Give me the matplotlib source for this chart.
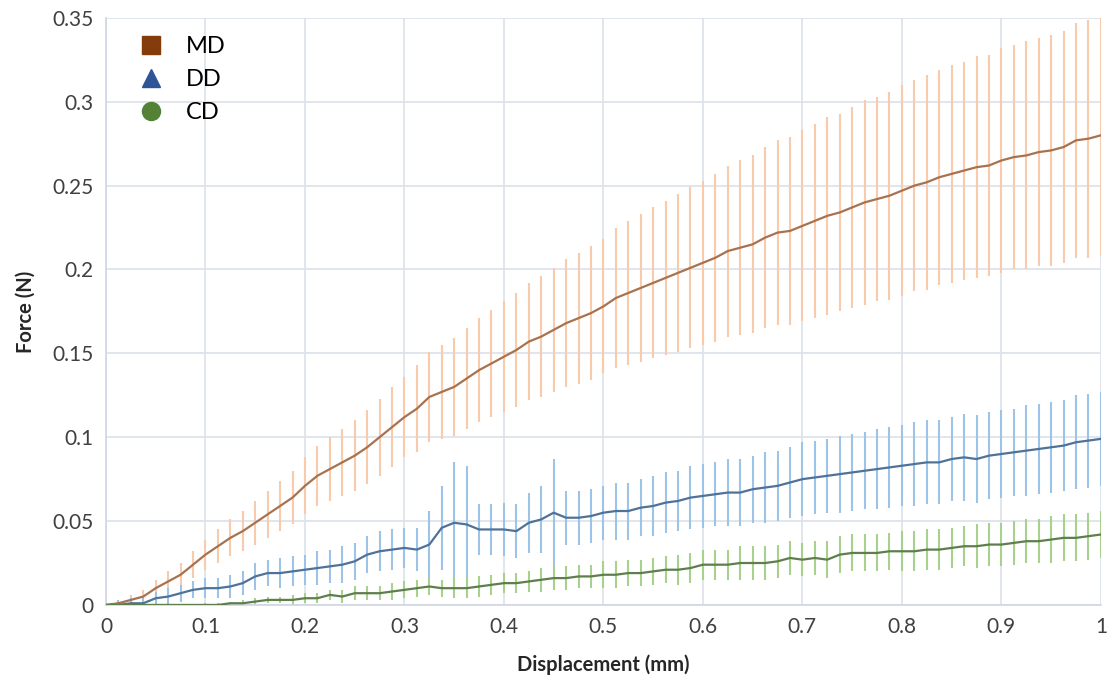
import matplotlib.pyplot as plt
import numpy as np

plt.rcParams['font.family'] = ['Lato', 'DejaVu Sans']

# displacement (mm)
x = [i * 0.0125 for i in range(81)]

md = [0.000, 0.001, 0.003, 0.005, 0.010, 0.014, 0.018, 0.024, 0.030,
      0.035, 0.040, 0.044, 0.049, 0.054, 0.059, 0.064, 0.071,
      0.077, 0.081, 0.085, 0.089, 0.094, 0.100, 0.106, 0.112,
      0.117, 0.124, 0.127, 0.130, 0.135, 0.140, 0.144, 0.148,
      0.152, 0.157, 0.160, 0.164, 0.168, 0.171, 0.174, 0.178,
      0.183, 0.186, 0.189, 0.192, 0.195, 0.198, 0.201, 0.204,
      0.207, 0.211, 0.213, 0.215, 0.219, 0.222, 0.223, 0.226,
      0.229, 0.232, 0.234, 0.237, 0.240, 0.242, 0.244, 0.247,
      0.250, 0.252, 0.255, 0.257, 0.259, 0.261, 0.262, 0.265,
      0.267, 0.268, 0.270, 0.271, 0.273, 0.277, 0.278, 0.280]
md_err = [0.000, 0.002, 0.003, 0.004, 0.005, 0.006, 0.007, 0.008, 0.009,
          0.010, 0.011, 0.012, 0.013, 0.014, 0.015, 0.016, 0.017,
          0.018, 0.019, 0.020, 0.021, 0.022, 0.023, 0.024, 0.024,
          0.026, 0.027, 0.028, 0.029, 0.030, 0.031, 0.032, 0.033,
          0.034, 0.035, 0.036, 0.037, 0.038, 0.039, 0.040, 0.040,
          0.042, 0.043, 0.044, 0.045, 0.046, 0.047, 0.048, 0.049,
          0.050, 0.051, 0.052, 0.053, 0.054, 0.055, 0.056, 0.057,
          0.058, 0.059, 0.059, 0.060, 0.061, 0.061, 0.062, 0.063,
          0.063, 0.064, 0.064, 0.065, 0.065, 0.066, 0.066, 0.067,
          0.067, 0.068, 0.068, 0.069, 0.069, 0.070, 0.071, 0.072]

dd = [0.000, 0.000, 0.001, 0.001, 0.004, 0.005, 0.007, 0.009, 0.010,
      0.010, 0.011, 0.013, 0.017, 0.019, 0.019, 0.020, 0.021,
      0.022, 0.023, 0.024, 0.026, 0.030, 0.032, 0.033, 0.034,
      0.033, 0.036, 0.046, 0.049, 0.048, 0.045, 0.045, 0.045,
      0.044, 0.049, 0.051, 0.055, 0.052, 0.052, 0.053, 0.055,
      0.056, 0.056, 0.058, 0.059, 0.061, 0.062, 0.064, 0.065,
      0.066, 0.067, 0.067, 0.069, 0.070, 0.071, 0.073, 0.075,
      0.076, 0.077, 0.078, 0.079, 0.080, 0.081, 0.082, 0.083,
      0.084, 0.085, 0.085, 0.087, 0.088, 0.087, 0.089, 0.090,
      0.091, 0.092, 0.093, 0.094, 0.095, 0.097, 0.098, 0.099]
dd_err = [0.000, 0.003, 0.003, 0.004, 0.004, 0.005, 0.005, 0.005, 0.006,
          0.006, 0.007, 0.007, 0.008, 0.008, 0.009, 0.009, 0.009,
          0.010, 0.010, 0.011, 0.011, 0.011, 0.012, 0.012, 0.012,
          0.013, 0.020, 0.025, 0.036, 0.035, 0.015, 0.015, 0.016,
          0.016, 0.018, 0.020, 0.032, 0.016, 0.016, 0.016, 0.016,
          0.017, 0.017, 0.017, 0.018, 0.018, 0.018, 0.019, 0.019,
          0.019, 0.020, 0.020, 0.020, 0.021, 0.021, 0.021, 0.022,
          0.022, 0.022, 0.023, 0.023, 0.023, 0.024, 0.024, 0.024,
          0.025, 0.025, 0.025, 0.025, 0.026, 0.026, 0.026, 0.026,
          0.026, 0.027, 0.027, 0.027, 0.027, 0.028, 0.028, 0.028]

cd = [0.000, 0.000, 0.000, 0.000, 0.000, 0.000, 0.000, 0.000, 0.000,
      0.000, 0.001, 0.001, 0.002, 0.003, 0.003, 0.003, 0.004,
      0.004, 0.006, 0.005, 0.007, 0.007, 0.007, 0.008, 0.009,
      0.010, 0.011, 0.010, 0.010, 0.010, 0.011, 0.012, 0.013,
      0.013, 0.014, 0.015, 0.016, 0.016, 0.017, 0.017, 0.018,
      0.018, 0.019, 0.019, 0.020, 0.021, 0.021, 0.022, 0.024,
      0.024, 0.024, 0.025, 0.025, 0.025, 0.026, 0.028, 0.027,
      0.028, 0.027, 0.030, 0.031, 0.031, 0.031, 0.032, 0.032,
      0.032, 0.033, 0.033, 0.034, 0.035, 0.035, 0.036, 0.036,
      0.037, 0.038, 0.038, 0.039, 0.040, 0.040, 0.041, 0.042]
cd_err = [0.000, 0.000, 0.000, 0.000, 0.000, 0.000, 0.000, 0.000, 0.001,
          0.001, 0.001, 0.002, 0.002, 0.002, 0.002, 0.003, 0.003,
          0.003, 0.003, 0.004, 0.004, 0.004, 0.004, 0.005, 0.005,
          0.005, 0.005, 0.005, 0.006, 0.006, 0.006, 0.006, 0.006,
          0.006, 0.006, 0.007, 0.007, 0.007, 0.007, 0.007, 0.008,
          0.008, 0.008, 0.008, 0.008, 0.008, 0.009, 0.009, 0.009,
          0.009, 0.009, 0.010, 0.010, 0.010, 0.010, 0.010, 0.010,
          0.010, 0.011, 0.011, 0.011, 0.011, 0.011, 0.011, 0.012,
          0.012, 0.012, 0.012, 0.012, 0.012, 0.013, 0.013, 0.013,
          0.013, 0.013, 0.013, 0.014, 0.014, 0.014, 0.014, 0.014]

series = [
    ("MD", md, md_err, "#A8724E", "#F8CBAD", "s", "#843C0C"),
    ("DD", dd, dd_err, "#4F7299", "#9DC3E6", "^", "#2F5597"),
    ("CD", cd, cd_err, "#5E7E4C", "#A9D18E", "o", "#548235"),
]

fig = plt.figure(figsize=(11.12, 6.89), dpi=100)
ax = fig.add_axes([0.0953, 0.122, 0.8947, 0.852])

for name, y, err, lc, ec, mk, mc in series:
    ax.errorbar(x, y, yerr=err, fmt="none", ecolor=ec, elinewidth=1.5, capsize=0, zorder=2)
    ax.plot(x, y, color=lc, lw=1.6, zorder=3)
    ax.plot([], [], ls="none", marker=mk, color=mc, markersize=13, label=name)

ax.set_xlim(0, 1)
ax.set_ylim(0, 0.35)
ax.set_xticks(np.arange(0, 1.01, 0.1))
ax.set_xticklabels(["0", "0.1", "0.2", "0.3", "0.4", "0.5", "0.6", "0.7", "0.8", "0.9", "1"])
ax.set_yticks(np.arange(0, 0.351, 0.05))
ax.set_yticklabels(["0", "0.05", "0.1", "0.15", "0.2", "0.25", "0.3", "0.35"])
ax.tick_params(length=0, labelsize=15, colors="#404040", pad=9)
ax.grid(True, color="#DCE1EA", lw=1.2)
ax.set_axisbelow(True)
for s in ["top", "right"]:
    ax.spines[s].set_visible(False)
for s in ["left", "bottom"]:
    ax.spines[s].set_color("#D0D7E3")
    ax.spines[s].set_linewidth(1.2)

ax.set_xlabel("Displacement (mm)", fontsize=14.5, fontweight="bold", color="#262626", labelpad=12)
ax.set_ylabel("Force (N)", fontsize=14.5, fontweight="bold", color="#262626", labelpad=12)

ax.legend(loc="upper left", frameon=False, fontsize=17, handletextpad=0.5,
          labelspacing=0.5, bbox_to_anchor=(0.0, 1.005))

fig.savefig("out.png")
